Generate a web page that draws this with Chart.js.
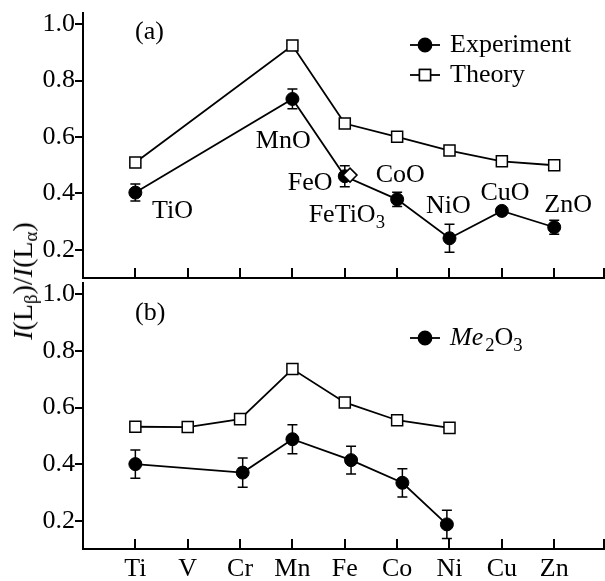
<!DOCTYPE html>
<html>
<head>
<meta charset="utf-8">
<script src="https://cdn.jsdelivr.net/npm/chart.js@4.4.0/dist/chart.umd.min.js"></script>
<style>
    html, body { margin: 0; padding: 0; background: #fff; overflow: hidden; }
    #wrap { position: relative; width: 605px; height: 581px; }
    #chartA { position: absolute; left: 0; top: 0; }
    #chartB { position: absolute; left: 0; top: 270px; }
    #ytitle {
        position: absolute; left: 23px; top: 281px;
        transform: translate(-50%, -50%) rotate(-90deg);
        font: 28px "Liberation Serif"; white-space: nowrap; color: #000;
    }
    #ytitle sub { font-size: 19px; vertical-align: -5px; line-height: 0; }
</style>
</head>
<body>
<div id="wrap">
    <canvas id="chartA" width="605" height="290"></canvas>
    <canvas id="chartB" width="605" height="311"></canvas>
    <div id="ytitle"><i>I</i>(L<sub>β</sub>)/<i>I</i>(L<sub>α</sub>)</div>
</div>
<script>
// 元素序列（x轴）
const elements = ['Ti', 'V', 'Cr', 'Mn', 'Fe', 'Co', 'Ni', 'Cu', 'Zn'];
const yTicks = [0.2, 0.4, 0.6, 0.8, 1.0];

// (a) 一氧化物 MeO
const oxA_x = [0, 3, 4, 5, 6, 7, 8];
const theoryA = [0.51, 0.925, 0.648, 0.601, 0.552, 0.514, 0.50];
const expA = [0.403, 0.735, 0.461, 0.379, 0.241, 0.338, 0.28];
const expA_err = [0.03, 0.035, 0.037, 0.025, 0.05, 0, 0.025];
const feTiO3_x = [4.1];
const feTiO3_y = [0.465];

// (a) 化合物标注（左对齐，基线位置）
const labelsA = ['TiO', 'MnO', 'FeO', 'FeTiO3', 'CoO', 'NiO', 'CuO', 'ZnO'];
const labelsA_x = [0.32, 2.30, 2.91, 3.31, 4.59, 5.55, 6.59, 7.81];
const labelsA_y = [0.312, 0.560, 0.412, 0.300, 0.442, 0.329, 0.377, 0.335];

// (b) 三氧化二物 Me2O3
const theoryB_x = [0, 1, 2, 3, 4, 5, 6];
const theoryB = [0.532, 0.531, 0.559, 0.736, 0.618, 0.555, 0.528];
const expB_x = [0, 2.05, 3, 4.12, 5.1, 5.95];
const expB = [0.40, 0.37, 0.488, 0.414, 0.334, 0.187];
const expB_err = [0.05, 0.052, 0.051, 0.049, 0.05, 0.05];

const FONT = '"Liberation Serif"';
const FS = 26;

const pts = (xs, ys) => xs.map((x, i) => ({ x, y: ys[i] }));

// 文本中数字画成下标
function drawRich(ctx, text, x, y, size, italicPart) {
    const parts = text.match(/\d+|\D+/g);
    let cx = x;
    parts.forEach(p => {
        const sub = /\d/.test(p);
        const fs = sub ? size * 0.72 : size;
        const it = (italicPart && p === italicPart) ? 'italic ' : '';
        ctx.font = `${it}${fs}px ${FONT}`;
        ctx.fillText(p, cx, sub ? y + size * 0.24 : y);
        cx += ctx.measureText(p).width + (it ? 2 : 0);
    });
}

const lineStyle = {
    showLine: true,
    borderColor: '#000',
    borderWidth: 1.8,
    pointBorderColor: '#000',
};
const expStyle = Object.assign({}, lineStyle, {
    pointStyle: 'circle', pointRadius: 6.5, pointBackgroundColor: '#000', pointBorderWidth: 1,
});
const theoryStyle = Object.assign({}, lineStyle, {
    pointStyle: 'rect', pointRadius: 7.8, pointBackgroundColor: '#fff', pointBorderWidth: 1.5,
});

// 误差棒 + 内向刻度 + 标注 + 图例
const decorPlugin = {
    id: 'decor',
    beforeDatasetsDraw(chart) {
        const { ctx } = chart;
        const xs = chart.scales.x, ys = chart.scales.y;
        ctx.save();
        ctx.strokeStyle = '#000';
        ctx.lineWidth = 1.5;
        chart.data.datasets.forEach(ds => {
            if (!ds.errors) return;
            ds.data.forEach((p, i) => {
                const e = ds.errors[i];
                if (!e) return;
                const px = xs.getPixelForValue(p.x);
                const y1 = ys.getPixelForValue(p.y + e);
                const y2 = ys.getPixelForValue(p.y - e);
                ctx.beginPath();
                ctx.moveTo(px, y1); ctx.lineTo(px, y2);
                ctx.moveTo(px - 5, y1); ctx.lineTo(px + 5, y1);
                ctx.moveTo(px - 5, y2); ctx.lineTo(px + 5, y2);
                ctx.stroke();
            });
        });
        ctx.restore();
    },
    afterDraw(chart) {
        const { ctx, chartArea } = chart;
        const xs = chart.scales.x, ys = chart.scales.y;
        const opt = chart.options.plugins.decor;
        ctx.save();
        // x轴刻度朝内（最后一根贴着右边缘）
        ctx.strokeStyle = '#000';
        ctx.lineWidth = 2;
        for (let i = 0; i <= elements.length; i++) {
            const px = Math.min(Math.round(xs.getPixelForValue(i)), chartArea.right - 1);
            ctx.beginPath();
            ctx.moveTo(px, chartArea.bottom);
            ctx.lineTo(px, chartArea.bottom - 10);
            ctx.stroke();
        }
        ctx.fillStyle = '#000';
        ctx.textBaseline = 'alphabetic';
        ctx.textAlign = 'left';
        // 面板标号
        ctx.font = `${FS}px ${FONT}`;
        ctx.fillText(opt.panel, 135, opt.panelY);
        // 化合物标注
        (opt.labels || []).forEach((t, i) => {
            drawRich(ctx, t, xs.getPixelForValue(opt.labelX[i]), ys.getPixelForValue(opt.labelY[i]), FS);
        });
        // 图例
        opt.legend.forEach((row, i) => {
            const by = opt.legendY + i * 30;
            const sy = by - 7;
            ctx.strokeStyle = '#000';
            ctx.lineWidth = 1.8;
            ctx.beginPath();
            ctx.moveTo(410, sy); ctx.lineTo(440, sy);
            ctx.stroke();
            if (row.style === 'circle') {
                ctx.fillStyle = '#000';
                Chart.helpers.drawPoint(ctx, { pointStyle: 'circle', radius: 6.5, borderWidth: 1 }, 425, sy);
                ctx.fill();
            } else {
                ctx.fillStyle = '#fff';
                ctx.lineWidth = 1.5;
                Chart.helpers.drawPoint(ctx, { pointStyle: 'rect', radius: 7.8, borderWidth: 1.5 }, 425, sy);
                ctx.fill();
                ctx.stroke();
            }
            ctx.fillStyle = '#000';
            drawRich(ctx, row.text, 450, by, FS, row.italic);
        });
        ctx.restore();
    }
};

function makeChart(id, datasets, xHeight, showXLabels, decor) {
    return new Chart(document.getElementById(id), {
        type: 'scatter',
        data: { datasets },
        options: {
            responsive: false,
            animation: false,
            devicePixelRatio: 1,
            layout: { autoPadding: false, padding: { top: 13, left: 0, right: 0, bottom: 0 } },
            plugins: {
                legend: { display: false },
                tooltip: { enabled: false },
                decor
            },
            scales: {
                x: {
                    type: 'linear', min: -1, max: 8.97,
                    afterBuildTicks: s => { s.ticks = elements.map((e, i) => ({ value: i })); },
                    afterFit: s => { s.height = xHeight; s.paddingLeft = 0; s.paddingRight = 0; },
                    grid: { display: false, drawTicks: false },
                    border: { display: true, color: '#000', width: 2 },
                    ticks: {
                        display: showXLabels,
                        autoSkip: false, maxRotation: 0, padding: 5,
                        color: '#000',
                        font: { family: 'Liberation Serif', size: FS },
                        callback: v => elements[v] ?? ''
                    }
                },
                y: {
                    min: 0.1, max: 1.04,
                    afterBuildTicks: s => { s.ticks = yTicks.map(v => ({ value: v })); },
                    afterFit: s => { s.width = 83; s.paddingTop = 0; s.paddingBottom = 0; },
                    grid: { drawOnChartArea: false, drawTicks: true, tickLength: 8, color: '#000', lineWidth: 2 },
                    border: { display: true, color: '#000', width: 2 },
                    ticks: {
                        padding: 0, color: '#000',
                        font: { family: 'Liberation Serif', size: FS },
                        callback: v => v.toFixed(1)
                    }
                }
            }
        },
        plugins: [decorPlugin]
    });
}

// (a)
makeChart('chartA', [
    { data: pts(feTiO3_x, feTiO3_y), showLine: false, pointStyle: 'rectRot', pointRadius: 7,
      pointBackgroundColor: '#fff', pointBorderColor: '#000', pointBorderWidth: 1.5 },
    Object.assign({ label: 'Experiment', data: pts(oxA_x, expA), errors: expA_err }, expStyle),
    Object.assign({ label: 'Theory', data: pts(oxA_x, theoryA) }, theoryStyle),
], 12, false, {
    panel: '(a)', panelY: 39,
    labels: labelsA, labelX: labelsA_x, labelY: labelsA_y,
    legendY: 52,
    legend: [
        { text: 'Experiment', style: 'circle' },
        { text: 'Theory', style: 'rect' }
    ]
});

// (b)
makeChart('chartB', [
    Object.assign({ label: 'Me2O3', data: pts(expB_x, expB), errors: expB_err }, expStyle),
    Object.assign({ label: 'Theory', data: pts(theoryB_x, theoryB) }, theoryStyle),
], 32, true, {
    panel: '(b)', panelY: 50,
    legendY: 75,
    legend: [
        { text: 'Me2O3', style: 'circle', italic: 'Me' }
    ]
});
</script>
</body>
</html>
